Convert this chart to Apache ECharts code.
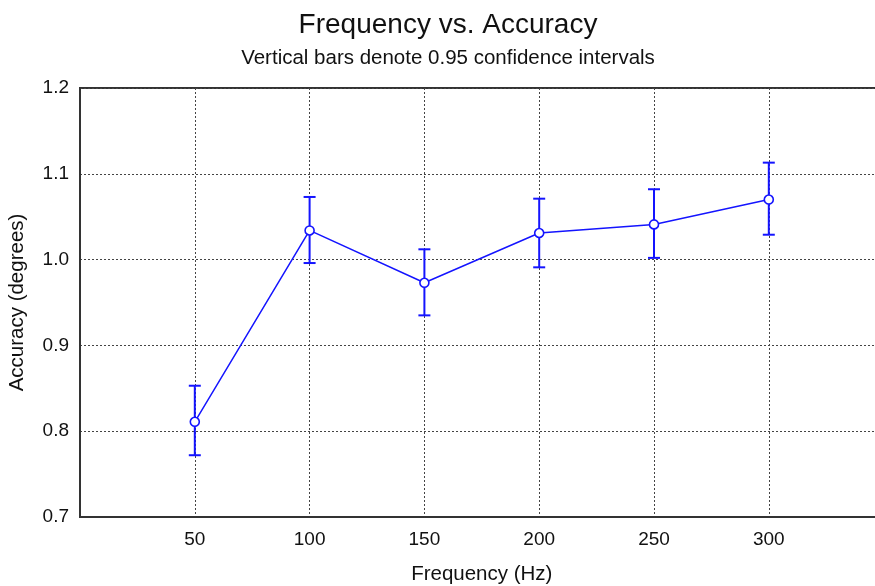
<!DOCTYPE html>
<html>
<head>
<meta charset="utf-8">
<script src="https://cdn.jsdelivr.net/npm/echarts@6/dist/echarts.min.js"></script>
<style>html,body{margin:0;padding:0;background:#fff}#c{width:875px;height:586px}</style>
</head>
<body>
<div id="c"></div>
<script>
const frequencies = [50, 100, 150, 200, 250, 300];
const accuracy = [0.811, 1.034, 0.973, 1.031, 1.041, 1.070];
const ciLower = [0.772, 0.996, 0.935, 0.991, 1.002, 1.029];
const ciUpper = [0.853, 1.073, 1.012, 1.071, 1.082, 1.113];
const xTicks = [50, 100, 150, 200, 250, 300];
const yTicks = [0.7, 0.8, 0.9, 1.0, 1.1, 1.2];

const chart = echarts.init(document.getElementById('c'));
const font = 'Liberation Sans, Arial, sans-serif';
const blue = '#1414ff';
chart.setOption({
  animation: false,
  title: {
    text: 'Frequency vs. Accuracy',
    subtext: 'Vertical bars denote 0.95 confidence intervals',
    left: 443, top: 6, textAlign: 'center',
    textStyle: {fontFamily: font, fontSize: 28, fontWeight: 'normal', color: '#111'},
    subtextStyle: {fontFamily: font, fontSize: 20.5, color: '#111'},
    itemGap: 9
  },
  grid: {left: 80, top: 88, width: 803.6, height: 429, show: true, borderColor: '#333', borderWidth: 2,
    containLabel: false, outerBoundsMode: 'none'},
  xAxis: {
    type: 'value', min: 0, max: 350, interval: 50,
    name: 'Frequency (Hz)', nameLocation: 'middle', nameGap: 47,
    nameTextStyle: {fontFamily: font, fontSize: 20.5, color: '#111'},
    axisLine: {show: true, lineStyle: {color: '#333', width: 2}},
    axisTick: {show: false},
    axisLabel: {fontFamily: font, fontSize: 19, color: '#111', margin: 13,
      formatter: v => xTicks.includes(v) ? String(v) : ''},
    splitLine: {show: true, lineStyle: {color: '#444', type: [2, 2], width: 1}}
  },
  yAxis: {
    type: 'value', min: 0.7, max: 1.2, interval: 0.1,
    name: 'Accuracy (degrees)', nameLocation: 'middle', nameGap: 52,
    nameTextStyle: {fontFamily: font, fontSize: 20.5, color: '#111'},
    axisLine: {show: true, lineStyle: {color: '#333', width: 2}},
    axisTick: {show: false},
    axisLabel: {fontFamily: font, fontSize: 19, color: '#111', margin: 11,
      formatter: v => { const t = yTicks.find(y => Math.abs(y - v) < 1e-9); return t !== undefined ? t.toFixed(1) : ''; }},
    splitLine: {show: true, lineStyle: {color: '#444', type: [2, 2], width: 1}}
  },
  series: [
    {
      type: 'line',
      data: frequencies.map((f, i) => [f, accuracy[i]]),
      symbol: 'circle', symbolSize: 9,
      itemStyle: {color: '#fff', borderColor: blue, borderWidth: 1.6},
      lineStyle: {color: blue, width: 1.5},
      z: 3
    },
    {
      type: 'custom',
      data: frequencies.map((f, i) => [f, ciLower[i], ciUpper[i]]),
      renderItem: (params, api) => {
        const lo = api.coord([api.value(0), api.value(1)]);
        const hi = api.coord([api.value(0), api.value(2)]);
        const w = 6;
        const style = {stroke: blue, lineWidth: 2};
        return {type: 'group', children: [
          {type: 'line', shape: {x1: lo[0], y1: lo[1], x2: hi[0], y2: hi[1]}, style},
          {type: 'line', shape: {x1: lo[0] - w, y1: lo[1], x2: lo[0] + w, y2: lo[1]}, style},
          {type: 'line', shape: {x1: hi[0] - w, y1: hi[1], x2: hi[0] + w, y2: hi[1]}, style}
        ]};
      },
      z: 2
    }
  ]
});
</script>
</body>
</html>
